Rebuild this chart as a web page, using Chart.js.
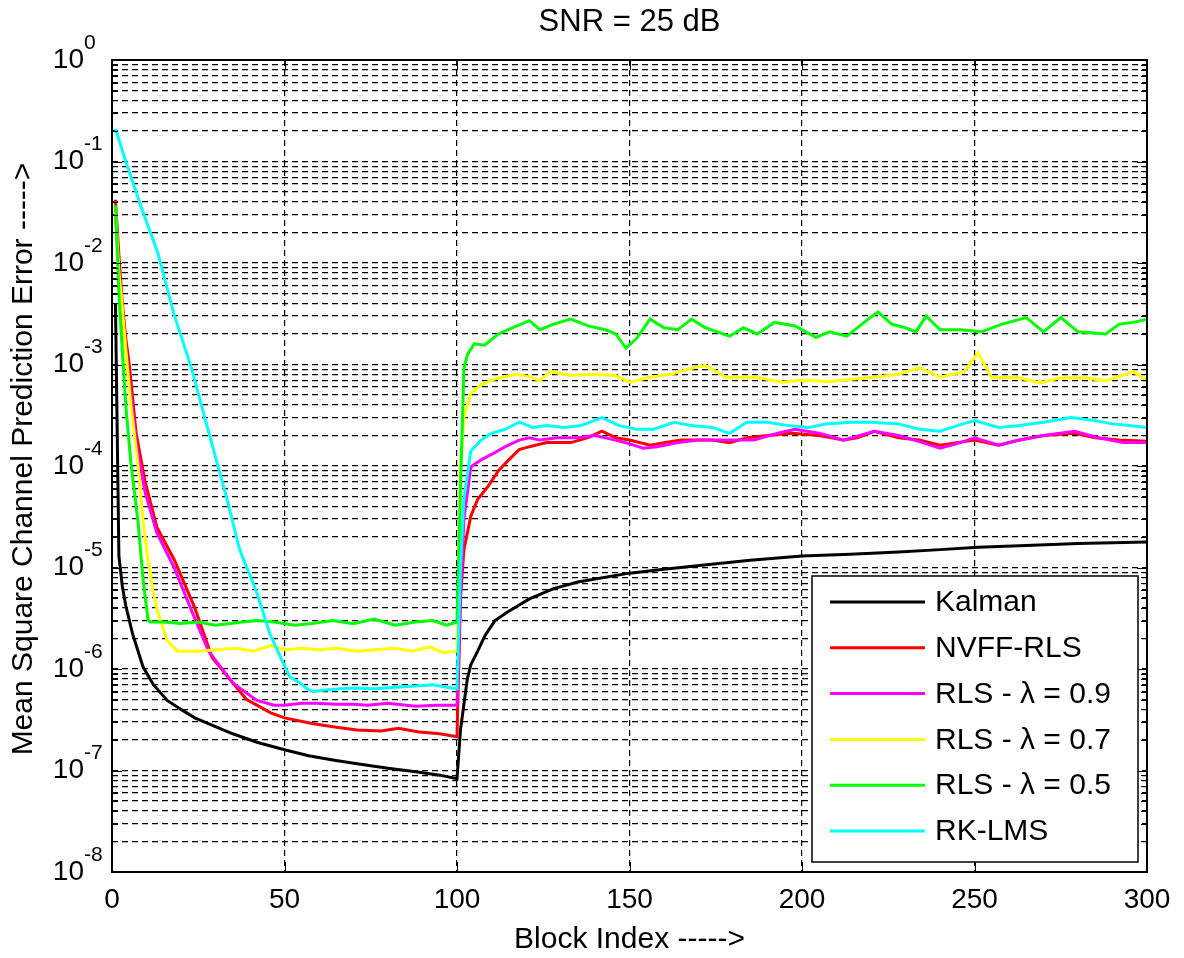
<!DOCTYPE html>
<html>
<head>
<meta charset="utf-8">
<script src="https://cdn.jsdelivr.net/npm/chart.js@4.4.1/dist/chart.umd.min.js"></script>
<style>
  html, body { margin: 0; padding: 0; background: #fff; }
  #wrap { width: 1184px; height: 958px; }
</style>
</head>
<body>
<div id="wrap"><canvas id="mseChart" width="1184" height="958"></canvas></div>
<script>
// [block index, mean square channel prediction error]
const kalman = [[1,4e-3],[2,1.3e-5],[3,6.5e-6],[4,4.2e-6],[6,2.2e-6],[9,1.05e-6],[12,7e-7],[16,4.9e-7],[20,4e-7],[24,3.3e-7],
  [30,2.7e-7],[35,2.3e-7],[42,1.9e-7],[50,1.6e-7],[57,1.4e-7],[64,1.27e-7],[72,1.15e-7],[80,1.05e-7],[88,9.7e-8],[95,9e-8],
  [100,8.3e-8],[101,2.5e-7],[102,4.5e-7],[103,8e-7],[104,1.1e-6],[106,1.5e-6],[108,2.1e-6],[111,3e-6],[115,3.7e-6],[121,4.9e-6],
  [128,6.2e-6],[135,7.2e-6],[150,8.8e-6],[160,9.6e-6],[171,1.05e-5],[185,1.18e-5],[200,1.3e-5],[214,1.35e-5],[228,1.42e-5],[240,1.5e-5],
  [251,1.58e-5],[265,1.65e-5],[280,1.72e-5],[300,1.78e-5]];

const nvffRls = [[1,4.2e-2],[2,1.2e-2],[3,4e-3],[4,1.8e-3],[5,1e-3],[7,2.1e-4],[9.6,7e-5],[13,2.5e-5],[18,1.2e-5],[24,4e-6],
  [29,1.3e-6],[35,7.3e-7],[39,5e-7],[42,4.4e-7],[46,3.7e-7],[50,3.3e-7],[58,2.9e-7],[64,2.7e-7],[71,2.5e-7],[78,2.45e-7],
  [83,2.6e-7],[89,2.4e-7],[95,2.3e-7],[100,2.15e-7],[101,5e-6],[102,1.5e-5],[104,3.2e-5],[106,4.7e-5],[109,6.3e-5],[112,9e-5],
  [115,1.15e-4],[118,1.45e-4],[121,1.55e-4],[126,1.7e-4],[133,1.7e-4],[138,1.9e-4],[142,2.2e-4],[146,1.9e-4],[150,1.8e-4],[156,1.6e-4],
  [160,1.7e-4],[165,1.8e-4],[174,1.8e-4],[179,1.7e-4],[184,1.9e-4],[190,2e-4],[197,2.1e-4],[205,2e-4],[212,1.8e-4],[216,1.9e-4],
  [221,2.2e-4],[228,1.9e-4],[234,1.8e-4],[240,1.6e-4],[245,1.7e-4],[250,1.8e-4],[257,1.6e-4],[263,1.8e-4],[270,2e-4],[279,2.1e-4],
  [285,1.9e-4],[292,1.8e-4],[300,1.75e-4]];

const rls09 = [[1,3.1e-2],[2,8e-3],[3,3e-3],[4,1.4e-3],[5,7e-4],[7,1.7e-4],[9.6,5.5e-5],[13,2.2e-5],[18,1e-5],[23,3.8e-6],
  [28,1.5e-6],[35,7.3e-7],[42,4.9e-7],[47,4.4e-7],[50,4.4e-7],[55,4.6e-7],[59,4.6e-7],[65,4.5e-7],[70,4.5e-7],[74,4.4e-7],
  [80,4.6e-7],[88,4.3e-7],[94,4.4e-7],[100,4.4e-7],[101,5e-6],[102,3e-5],[103,5.4e-5],[104,9.8e-5],[107,1.15e-4],[110,1.3e-4],
  [114,1.55e-4],[118,1.8e-4],[121,1.9e-4],[124,1.8e-4],[129,1.9e-4],[135,1.9e-4],[140,2e-4],[146,1.8e-4],[150,1.65e-4],[154,1.5e-4],
  [158,1.55e-4],[164,1.7e-4],[170,1.8e-4],[178,1.8e-4],[186,1.8e-4],[193,2.1e-4],[198,2.3e-4],[205,2.1e-4],[212,1.8e-4],[221,2.2e-4],
  [228,2e-4],[235,1.7e-4],[240,1.5e-4],[246,1.7e-4],[250,1.9e-4],[257,1.6e-4],[263,1.8e-4],[270,2e-4],[279,2.2e-4],[286,1.9e-4],
  [293,1.7e-4],[300,1.7e-4]];

const rls07 = [[1,3.5e-2],[2,8e-3],[2.6,5.2e-3],[4,1.4e-3],[5.5,3.9e-4],[7.5,1.05e-4],[9,2.9e-5],[10.4,1.2e-5],[11.8,6e-6],[13.3,3.6e-6],
  [16,1.9e-6],[19,1.5e-6],[25,1.5e-6],[30,1.55e-6],[36,1.6e-6],[41,1.5e-6],[46,1.7e-6],[50,1.55e-6],[55,1.6e-6],[60,1.55e-6],
  [65,1.6e-6],[71,1.5e-6],[76,1.55e-6],[82,1.6e-6],[87,1.5e-6],[92,1.65e-6],[96,1.45e-6],[100,1.5e-6],[101,1e-4],[102,3e-4],
  [104,5.2e-4],[107,6.3e-4],[111,7.2e-4],[117,8e-4],[121,7.6e-4],[124,6.9e-4],[127,8.5e-4],[133,7.8e-4],[140,8e-4],[146,7.8e-4],
  [150,6.7e-4],[156,7.5e-4],[162,8e-4],[167,9e-4],[172,9.8e-4],[178,7.5e-4],[187,7.5e-4],[194,6.7e-4],[200,7e-4],[208,6.8e-4],
  [215,7.2e-4],[221,7.5e-4],[228,8e-4],[234,9.3e-4],[240,7.5e-4],[247,8.5e-4],[251,1.3e-3],[255,7.4e-4],[262,7.5e-4],[269,6.6e-4],
  [275,7.4e-4],[282,7.4e-4],[288,6.9e-4],[296,8.5e-4],[300,7e-4]];

const rls05 = [[1,3.7e-2],[2,5e-3],[2.6,2.2e-3],[4,3.9e-4],[5.5,1.05e-4],[7.5,2.9e-5],[9,7.7e-6],[10.4,3.1e-6],[11,2.9e-6],[15,2.9e-6],
  [20,2.8e-6],[25,2.9e-6],[30,2.7e-6],[36,2.85e-6],[42,3e-6],[47,2.9e-6],[53,2.7e-6],[58,2.8e-6],[64,3e-6],[70,2.8e-6],
  [76,3.1e-6],[82,2.7e-6],[88,2.9e-6],[93,3e-6],[97,2.7e-6],[100,2.9e-6],[101,6e-5],[102,9e-4],[103,1.25e-3],[105,1.6e-3],
  [108,1.55e-3],[112,2e-3],[116,2.3e-3],[121,2.7e-3],[124,2.2e-3],[128,2.5e-3],[133,2.8e-3],[138,2.4e-3],[143,2.2e-3],[146,2e-3],
  [149,1.45e-3],[152,1.8e-3],[156,2.8e-3],[160,2.3e-3],[164,2.2e-3],[168,2.8e-3],[172,2.3e-3],[179,1.9e-3],[183,2.3e-3],[187,2e-3],
  [192,2.6e-3],[198,2.4e-3],[204,1.85e-3],[208,2.1e-3],[213,1.9e-3],[218,2.6e-3],[222,3.3e-3],[226,2.5e-3],[230,2.3e-3],[233,2.1e-3],
  [236,3e-3],[240,2.2e-3],[246,2.2e-3],[252,2.1e-3],[258,2.5e-3],[265,2.9e-3],[270,2.1e-3],[275,2.9e-3],[280,2.1e-3],[288,2e-3],
  [292,2.5e-3],[296,2.6e-3],[300,2.8e-3]];

const rkLms = [[1,2.1e-1],[4,1e-1],[8.4,3.6e-2],[13.3,1.25e-2],[18,3.1e-3],[23,9.3e-4],[27.8,2.3e-4],[33,5.2e-5],[37,1.5e-5],[42,5.6e-6],
  [45.8,2.2e-6],[49.6,1.15e-6],[51.6,8.3e-7],[54.5,7.3e-7],[56.5,6.4e-7],[58,6e-7],[64,6.3e-7],[70,6.5e-7],[76,6.4e-7],[82,6.6e-7],
  [88,6.8e-7],[93,7e-7],[97,6.6e-7],[100,6.4e-7],[101,1e-5],[102,4.7e-5],[104,1.4e-4],[107,1.8e-4],[110,2.1e-4],[114,2.3e-4],
  [118,2.7e-4],[122,2.4e-4],[126,2.5e-4],[131,2.4e-4],[136,2.5e-4],[142,3e-4],[147,2.5e-4],[152,2.3e-4],[157,2.3e-4],[163,2.7e-4],
  [168,2.5e-4],[174,2.4e-4],[179,2.1e-4],[184,2.7e-4],[190,2.7e-4],[196,2.5e-4],[202,2.4e-4],[207,2.6e-4],[214,2.7e-4],[220,2.7e-4],
  [228,2.6e-4],[234,2.3e-4],[240,2.2e-4],[245,2.5e-4],[250,2.8e-4],[257,2.4e-4],[263,2.5e-4],[270,2.7e-4],[278,3e-4],[285,2.8e-4],
  [290,2.6e-4],[295,2.5e-4],[300,2.4e-4]];

const seriesNames = ['Kalman', 'NVFF-RLS', 'RLS - \u03bb = 0.9', 'RLS - \u03bb = 0.7', 'RLS - \u03bb = 0.5', 'RK-LMS'];
const seriesColors = ['#000000', '#ff0000', '#ff00ff', '#ffff00', '#00ff00', '#00ffff'];
const xTickStep = 50;
const yDecades = [-8, 0];

const FONT = "'Liberation Sans', Arial, sans-serif";

function isDecade(v) {
  const l = Math.log10(v);
  return Math.abs(l - Math.round(l)) < 1e-9;
}

// MATLAB-ish frame, inner ticks, legend, labels
const matlabLook = {
  id: 'matlabLook',
  afterDatasetsDraw(chart) {
    const { ctx, chartArea: a, scales: { x, y } } = chart;
    ctx.save();
    ctx.setLineDash([]);
    ctx.strokeStyle = '#000';
    ctx.lineWidth = 1;
    y.ticks.forEach(t => {
      const py = Math.round(y.getPixelForValue(t.value)) + 0.5;
      const len = isDecade(t.value) ? 10 : 6;
      ctx.beginPath();
      ctx.moveTo(a.left, py); ctx.lineTo(a.left + len, py);
      ctx.moveTo(a.right, py); ctx.lineTo(a.right - len, py);
      ctx.stroke();
    });
    x.ticks.forEach(t => {
      const px = Math.round(x.getPixelForValue(t.value)) + 0.5;
      ctx.beginPath();
      ctx.moveTo(px, a.bottom); ctx.lineTo(px, a.bottom - 10);
      ctx.moveTo(px, a.top); ctx.lineTo(px, a.top + 10);
      ctx.stroke();
    });

    // legend
    const lw = 326, lh = 286;
    const lx = a.right - 9 - lw, ly = a.bottom - 10 - lh;
    ctx.fillStyle = '#fff';
    ctx.fillRect(lx, ly, lw, lh);
    ctx.lineWidth = 1.5;
    ctx.strokeRect(lx, ly, lw, lh);
    ctx.font = '30px ' + FONT;
    ctx.textAlign = 'left';
    ctx.textBaseline = 'middle';
    chart.data.datasets.forEach((ds, i) => {
      const ry = ly + 26 + i * 45.8;
      ctx.strokeStyle = ds.borderColor;
      ctx.lineWidth = 3;
      ctx.beginPath();
      ctx.moveTo(lx + 18, ry); ctx.lineTo(lx + 113, ry);
      ctx.stroke();
      ctx.fillStyle = '#000';
      ctx.fillText(ds.label, lx + 123, ry + 1);
    });

    // frame
    ctx.strokeStyle = '#000';
    ctx.lineWidth = 2;
    ctx.strokeRect(a.left, a.top, a.right - a.left, a.bottom - a.top);
    ctx.restore();
  },
  afterDraw(chart) {
    const { ctx, chartArea: a, scales: { y } } = chart;
    ctx.save();
    ctx.fillStyle = '#000';
    y.ticks.forEach(t => {
      if (!isDecade(t.value)) return;
      const py = y.getPixelForValue(t.value);
      ctx.textBaseline = 'middle';
      ctx.font = '28px ' + FONT;
      ctx.textAlign = 'right';
      ctx.fillText('10', 84, py);
      ctx.font = '21px ' + FONT;
      ctx.textAlign = 'left';
      ctx.fillText(String(Math.round(Math.log10(t.value))), 84, py - 17);
    });

    const cx = (a.left + a.right) / 2;
    ctx.font = '31px ' + FONT;
    ctx.textAlign = 'center';
    ctx.textBaseline = 'middle';
    ctx.fillText('SNR = 25 dB', cx, 22);
    ctx.font = '30px ' + FONT;
    ctx.fillText('Block Index ----->', cx, 940);

    ctx.translate(24, (a.top + a.bottom) / 2 - 7);
    ctx.rotate(-Math.PI / 2);
    ctx.fillText('Mean Square Channel Prediction Error ----->', 0, 0);
    ctx.restore();
  }
};

function buildChart() {
  const allSeries = [kalman, nvffRls, rls09, rls07, rls05, rkLms];
  const datasets = allSeries.map((s, i) => ({
    label: seriesNames[i],
    data: s.map(p => ({ x: p[0], y: p[1] })),
    borderColor: seriesColors[i],
    backgroundColor: seriesColors[i],
    borderWidth: 3,
    pointRadius: 0,
    tension: 0,
    fill: false,
    order: allSeries.length - i
  }));

  const ctx = document.getElementById('mseChart').getContext('2d');
  new Chart(ctx, {
    type: 'line',
    data: { datasets },
    options: {
      responsive: false,
      animation: false,
      devicePixelRatio: 1,
      layout: { padding: { top: 60, right: 37, left: 0, bottom: 0 } },
      plugins: { legend: { display: false }, tooltip: { enabled: false }, title: { display: false } },
      scales: {
        x: {
          type: 'linear',
          min: 0,
          max: 300,
          afterFit: s => { s.height = 86; },
          ticks: { stepSize: xTickStep, color: '#000', padding: 11, font: { family: FONT, size: 28 }, maxRotation: 0 },
          grid: { color: '#000', lineWidth: 1.2, drawTicks: false },
          border: { display: false, dash: [6, 4] }
        },
        y: {
          type: 'logarithmic',
          min: Math.pow(10, yDecades[0]),
          max: Math.pow(10, yDecades[1]),
          afterFit: s => { s.width = 112; },
          afterBuildTicks: s => {
            const t = [];
            for (let e = yDecades[0]; e <= yDecades[1]; e++) {
              for (let m = 1; m <= 9; m++) {
                if (e === yDecades[1] && m > 1) break;
                t.push({ value: m * Math.pow(10, e) });
              }
            }
            s.ticks = t;
          },
          ticks: { display: false },
          grid: { color: '#000', lineWidth: 1.2, drawTicks: false },
          border: { display: false, dash: [6, 4] }
        }
      }
    },
    plugins: [matlabLook]
  });
}

window.onload = buildChart;
</script>
</body>
</html>
